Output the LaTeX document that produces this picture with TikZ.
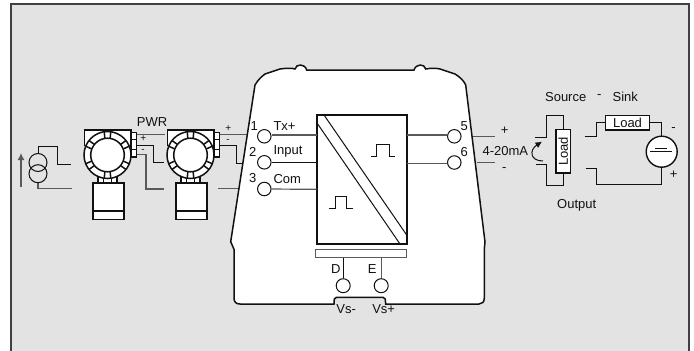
\documentclass[tikz,border=0pt]{standalone}
\usepackage{fontspec}
\setmainfont{Liberation Sans}
\usetikzlibrary{arrows.meta}
\definecolor{bgc}{HTML}{E3E3E3}
\definecolor{ink}{HTML}{111111}
\tikzset{
 px/.style={x=1pt,y=-1pt},
 wire/.style={draw=ink,line width=1.0pt},
 grayw/.style={draw=black!65,line width=1.2pt},
 heavy/.style={draw=ink,line width=1.5pt},
 term/.style={circle,draw=ink,fill=white,line width=1.0pt,minimum size=13.5pt,inner sep=0pt},
 lab/.style={font=\fontsize{13pt}{14pt}\selectfont,text=ink,inner sep=0pt},
 pm/.style={font=\fontsize{10pt}{10pt}\selectfont,text=ink,inner sep=0pt},
 loadbox/.style={draw=ink,fill=white,line width=1.4pt,minimum width=43.5pt,minimum height=14.3pt,inner sep=0pt,font=\fontsize{13pt}{14pt}\selectfont,text=ink},
}
\newcommand{\transmitter}[1]{%
\begin{scope}[shift={(#1,0)}]
 \draw[heavy,fill=white] (84.5,146)--(84.5,130)--(131,130)--(131,146);
 \draw[heavy,fill=white] (131,132.5)rectangle(136.5,157);
 \draw[wire] (131,139.5)--(136.5,139.5) (131,149.5)--(136.5,149.5);
 \draw[heavy,fill=white] (98,176)rectangle(117,184);
 \draw[wire] (103.5,176)--(103.5,184) (111.5,176)--(111.5,184);
 \draw[heavy,fill=white] (93,183)rectangle(124,219.5);
 \draw[heavy] (93,211)--(124,211);
 \draw[heavy,fill=white] (107.5,155) circle (23.5pt);
 \draw[heavy,fill=white] (107.5,155) circle (16.8pt);
 \foreach \a in {90,30,-30,-90,-150,150}{
  \draw[heavy] ({107.5+16.8*cos(\a+9)},{155-16.8*sin(\a+9)})--({107.5+23.5*cos(\a+8)},{155-23.5*sin(\a+8)});
  \draw[heavy] ({107.5+16.8*cos(\a-9)},{155-16.8*sin(\a-9)})--({107.5+23.5*cos(\a-8)},{155-23.5*sin(\a-8)});
 }
\end{scope}}
\begin{document}
\begin{tikzpicture}[px]
\useasboundingbox (0,0) rectangle (694,351);
\fill[white] (0,0) rectangle (694,351);
\draw[fill=bgc,draw=black!75,line width=1.6pt] (11,353)--(11,4)--(689,4)--(689,353);
% transmitters
\transmitter{0}
\transmitter{83}
% source
\draw[wire] (38,153.5)--(38,146.7)--(57.5,146.7)--(57.5,164)--(71,164);
\draw[grayw] (38,182)--(38,188.7)--(72,188.7);
\draw[wire] (38,162.5) circle (9pt) (38,173.7) circle (9pt);
\coordinate (arr0) at (21,186.5);
\coordinate (arr1) at (21,153);
\draw[-{Latex[length=7pt,width=7pt]},grayw] (arr0)--(arr1);
% wiring between
\draw[grayw] (136.5,134.7)--(165,134.7);
\draw[wire] (136.5,145)--(153.3,145)--(153.3,162.7)--(164,162.7);
\draw[grayw] (136.5,154.3)--(146,154.3)--(146,189)--(164,189);
\draw[grayw] (219.5,134.5)--(247,134.5);
\draw[wire] (219.5,145)--(236.7,145)--(236.7,163)--(243,163);
\draw[grayw] (218.3,188.7)--(245,188.7);
\node[lab] (pwr) at (152,122.3) {PWR};
\node[pm] (p1) at (143.3,139) {+};
\node[pm] (m1) at (143,150.5) {-};
\node[pm] (p2) at (228.3,129) {+};
\node[pm] (m2) at (228,140.5) {-};
% housing
\draw[fill=white,draw=ink,line width=1.5pt]
 (255,85) .. controls (258,80) and (261,77) .. (265,74)
 -- (280,69) .. controls (287,68) and (292,68) .. (295,69)
 .. controls (296,63.5) and (305,63.5) .. (306.7,70)
 -- (414,70) .. controls (416,63.5) and (424.5,63.5) .. (425.7,69)
 .. controls (431,68) and (436,68) .. (440,69)
 -- (455,74) .. controls (460,77) and (464,81) .. (465.7,85)
 -- (485,242) -- (484.3,249) -- (484.3,298) .. controls (484.3,302) and (482,304) .. (479,304)
 -- (385.7,304) -- (385.2,299) .. controls (385,298) and (384,297.3) .. (383,297.3)
 -- (336.5,297.3) .. controls (335.5,297.3) and (334.5,298) .. (334.3,299) -- (334,304)
 -- (240,304) .. controls (236,304) and (234,302) .. (234,298)
 -- (234,249.3) -- (230.7,241.7) -- cycle;
% main box
\draw[draw=ink,line width=2.2pt,fill=white] (316.7,115) rectangle (406.7,244);
\draw[wire] (317.7,124)--(400,244) (324,115)--(406.7,235);
% pulses
\draw[wire] (371,156.7)--(376.7,156.7)--(376.7,144.7)--(389,144.7)--(389,156.7)--(395,156.7);
\draw[wire] (329,208.3)--(335,208.3)--(335,196)--(346.7,196)--(346.7,208.3)--(353,208.3);
% left terminals
\node[term] (t1) at (264.3,136.3) {};
\node[term] (t2) at (264.3,162.3) {};
\node[term] (t3) at (264.3,189) {};
\coordinate (b1) at (316.7,135);\coordinate (b2) at (316.7,162.3);\coordinate (b3) at (316.7,189.3);
\draw[grayw] (t1.east|-b1)--(b1);
\draw[wire] (t2)--(b2);
\draw[grayw] (t3)--(b3);
\node[term] (t5) at (454.3,136.3) {};
\node[term] (t6) at (454.3,162.5) {};
\coordinate (b5) at (406.7,135);\coordinate (b6) at (406.7,163.3);
\draw[grayw] (b5)--(t5.west|-b5);
\draw[grayw] (b6)--(t6.west|-b6);
\node[lab] at (254.3,126) {1};
\node[lab] at (252.7,151.7) {2};
\node[lab] at (252.7,178.3) {3};
\node[lab] at (464.3,126) {5};
\node[lab] at (464.3,151.7) {6};
\node[lab,anchor=west] at (273.3,126) {Tx+};
\node[lab,anchor=west] at (273.3,151.7) {Input};
\node[lab,anchor=west] at (273.3,178.7) {Com};
% bar
\draw[draw=black!65,line width=1.1pt,fill=white] (315.7,249.3) rectangle (406.7,257.7);
\node[term,minimum size=14pt] (tD) at (343.2,285.7) {};
\node[term,minimum size=14pt] (tE) at (381.2,285.7) {};
\coordinate (bD) at (343.2,257.7);\coordinate (bE) at (381.2,257.7);
\draw[wire] (bD)--(tD);
\draw[grayw] (bE)--(tE);
\node[lab] at (335.7,269.5) {D};
\node[lab] at (372.3,269.5) {E};
\node[lab] at (346.2,309.5) {Vs-};
\node[lab] at (383.7,309.5) {Vs+};
% output wires
\draw[grayw] (473,136.7)--(495,136.7);
\draw[grayw] (477,162.7)--(495,162.7);
\node[lab] at (504.7,130.7) {+};
\node[lab] at (504.3,169.3) {-};
\node[lab] at (505.3,150.7) {4-20mA};
% source loop
\node[loadbox,rotate=90] (loadA) at (563.3,151.3) {Load};
\draw[wire] (535,137.3)--(546,137.3)--(546,115.7)--(563.3,115.7)--(loadA.east);
\draw[wire] (536,164)--(546,164)--(546,185)--(563.3,185)--(loadA.west);
% arrow
\draw[draw=ink,line width=1.0pt,-{Latex[length=6.5pt,width=6.5pt]}] (543,161) .. controls (530,161) and (529,150) .. (542,141.7);
% sink right
\node[loadbox] (loadB) at (627.5,122.8) {Load};
\draw[wire] (584.7,136)--(596.7,136)--(596.7,122.8)--(loadB.west);
\draw[wire] (loadB.east)--(661.7,122.8)--(661.7,137);
\draw[wire] (585.7,168.7)--(596.7,168.7)--(596.7,184.3)--(661.7,184.3)--(661.7,167);
\draw[fill=white,draw=ink,line width=1.4pt] (661.7,151.7) circle (15.5pt);
\draw[wire] (650,151.7)--(671.7,151.7) (655,148.3)--(666.7,148.3);
\node[lab] at (673.5,130) {-};
\node[lab] at (673.7,175) {+};
\node[lab] at (565.7,96.7) {Source};
\node[lab] at (599.3,96.7) {-};
\node[lab] at (625.3,96.7) {Sink};
\node[lab] at (576.7,205) {Output};
\end{tikzpicture}
\end{document}
